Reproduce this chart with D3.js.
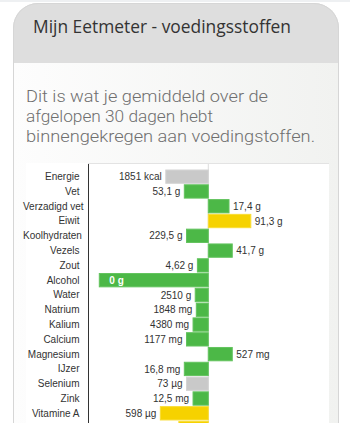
<!DOCTYPE html>
<html>
<head>
<meta charset="utf-8">
<script src="https://cdn.jsdelivr.net/npm/d3@7"></script>
<style>
  html, body { margin: 0; padding: 0; background: #ffffff; }
  svg { display: block; }
</style>
</head>
<body>
<svg id="chart" width="350" height="423"></svg>
<script>
// Nutrients, in the order the Eetmeter lists them
const categories = ["Energie", "Vet", "Verzadigd vet", "Eiwit", "Koolhydraten", "Vezels", "Zout",
  "Alcohol", "Water", "Natrium", "Kalium", "Calcium", "Magnesium", "IJzer", "Selenium", "Zink",
  "Vitamine A", "Vitamine B1"];
// Deviation from the recommended intake (score, -100 .. 100)
const scores = [-39, -22, 19, 39, -20, 22, -10, -100, -12, -11, -14, -20, 22, -22, -20, -14, -44, -27];
// Average daily intake as shown next to each bar
const valueLabels = ["1851 kcal", "53,1 g", "17,4 g", "91,3 g", "229,5 g", "41,7 g", "4,62 g", "0 g",
  "2510 g", "1848 mg", "4380 mg", "1177 mg", "527 mg", "16,8 mg", "73 µg", "12,5 mg", "598 µg", ""];
// Assessment per nutrient: goed / let op / geen advies
const status = ["geen", "goed", "goed", "let op", "goed", "goed", "goed", "goed", "goed", "goed",
  "goed", "goed", "goed", "goed", "geen", "goed", "let op", "let op"];
const scoreDomain = [-100, 100];

const rows = categories.map((c, i) => ({ name: c, score: scores[i], label: valueLabels[i], status: status[i] }));

const svg = d3.select("#chart");
const W = 350, H = 423;

const defs = svg.append("defs");
const grad = defs.append("linearGradient").attr("id", "bodyFill").attr("x1", 0).attr("x2", 1).attr("y1", 0).attr("y2", 0);
grad.append("stop").attr("offset", "0%").attr("stop-color", "#fdfdfd");
grad.append("stop").attr("offset", "100%").attr("stop-color", "#f1f2f0");
defs.append("clipPath").attr("id", "cardClip")
  .append("path")
  .attr("d", "M13,28 A25,25 0 0 1 38,3 L314,3 A25,25 0 0 1 339,28 L339,430 L13,430 Z");

// page strip above the card
svg.append("rect").attr("x", 0).attr("y", 0).attr("width", W).attr("height", 2).attr("fill", "#eef0f2");

// card
const card = svg.append("g").attr("clip-path", "url(#cardClip)");
card.append("rect").attr("x", 13).attr("y", 3).attr("width", 326).attr("height", 430).attr("fill", "url(#bodyFill)");
card.append("rect").attr("x", 13).attr("y", 3).attr("width", 326).attr("height", 60).attr("fill", "#dedede");
svg.append("path")
  .attr("d", "M13.5,430 L13.5,28 A24.5,24.5 0 0 1 38,3.5 L314,3.5 A24.5,24.5 0 0 1 338.5,28 L338.5,430")
  .attr("fill", "none").attr("stroke", "#d6d6d6").attr("stroke-width", 1);

// header title
svg.append("text")
  .attr("x", 33).attr("y", 33)
  .attr("font-family", "'Open Sans', 'Noto Sans', sans-serif")
  .attr("font-size", 18)
  .attr("fill", "#333")
  .attr("textLength", 258).attr("lengthAdjust", "spacingAndGlyphs")
  .text("Mijn Eetmeter - voedingsstoffen");

// intro paragraph
const intro = [
  { t: "Dit is wat je gemiddeld over de", y: 101.7, w: 242 },
  { t: "afgelopen 30 dagen hebt", y: 121.7, w: 187 },
  { t: "binnengekregen aan voedingstoffen.", y: 141.7, w: 289 }
];
svg.append("g").selectAll("text").data(intro).join("text")
  .attr("x", 26).attr("y", d => d.y)
  .attr("font-family", "Roboto, 'Open Sans', sans-serif")
  .attr("font-size", 17)
  .attr("font-weight", 300)
  .attr("fill", "#6f6f6f")
  .attr("textLength", d => d.w).attr("lengthAdjust", "spacingAndGlyphs")
  .text(d => d.t);

// chart panel
svg.append("rect").attr("x", 26).attr("y", 163).attr("width", 303).attr("height", 270).attr("fill", "#ffffff");
svg.append("line").attr("x1", 88).attr("x2", 329).attr("y1", 163.5).attr("y2", 163.5).attr("stroke", "#e3e3e3");

// scales
const x = d3.scaleLinear().domain(scoreDomain).range([99.3, 317.3]);
const y = d3.scaleBand().domain(categories).range([169.26, 169.26 + 14.79 * categories.length])
  .paddingInner(0.1).paddingOuter(0.05);

const colour = { "goed": "#4cb847", "let op": "#f6d200", "geen": "#c9c9c9" };
const edge = { "goed": "#63c35e", "let op": "#f9dc33", "geen": "#d4d4d4" };

// zero line
svg.append("line")
  .attr("x1", x(0)).attr("x2", x(0)).attr("y1", 164).attr("y2", H)
  .attr("stroke", "#dcdcdc").attr("stroke-width", 1);

// bars
svg.append("g").selectAll("rect").data(rows).join("rect")
  .attr("x", d => Math.min(x(0), x(d.score)))
  .attr("y", d => y(d.name))
  .attr("width", d => Math.abs(x(d.score) - x(0)))
  .attr("height", y.bandwidth())
  .attr("fill", d => colour[d.status])
  .attr("stroke", d => edge[d.status])
  .attr("stroke-width", 1);

// value labels: outside the bar, or inside when it reaches the axis
const labelFont = "'Liberation Sans', Arial, sans-serif";
svg.append("g").selectAll("text").data(rows).join("text")
  .attr("y", d => y(d.name) + y.bandwidth() / 2 + 3.6)
  .attr("x", d => d.score <= -90 ? x(d.score) + 10 : (d.score < 0 ? x(d.score) - 4 : x(d.score) + 4))
  .attr("text-anchor", d => d.score <= -90 ? "start" : (d.score < 0 ? "end" : "start"))
  .attr("font-family", labelFont)
  .attr("font-size", 10)
  .attr("font-weight", d => d.score <= -90 ? "bold" : "normal")
  .attr("fill", d => d.score <= -90 ? "#ffffff" : "#333")
  .text(d => d.label);

// category axis; rows that fall below the fold get no name
const yAxis = d3.axisLeft(y).tickSize(0).tickPadding(9)
  .tickFormat(d => (y(d) + y.bandwidth() / 2 + 4 > H ? "" : d));
const ax = svg.append("g").attr("transform", "translate(88.5,0)").call(yAxis);
ax.select(".domain").remove();
ax.append("line").attr("x1", 0).attr("x2", 0).attr("y1", 164).attr("y2", H).attr("stroke", "#333");
ax.selectAll(".tick text")
  .attr("font-family", labelFont)
  .attr("font-size", 10)
  .attr("fill", "#333")
  .attr("dy", "0.34em")
  .each(function () {
    // long names start at the panel margin instead of running past it
    const t = d3.select(this);
    const w = this.getComputedTextLength();
    if (w > 56) t.attr("text-anchor", "start").attr("x", 23 - 88.5);
  });
</script>
</body>
</html>
